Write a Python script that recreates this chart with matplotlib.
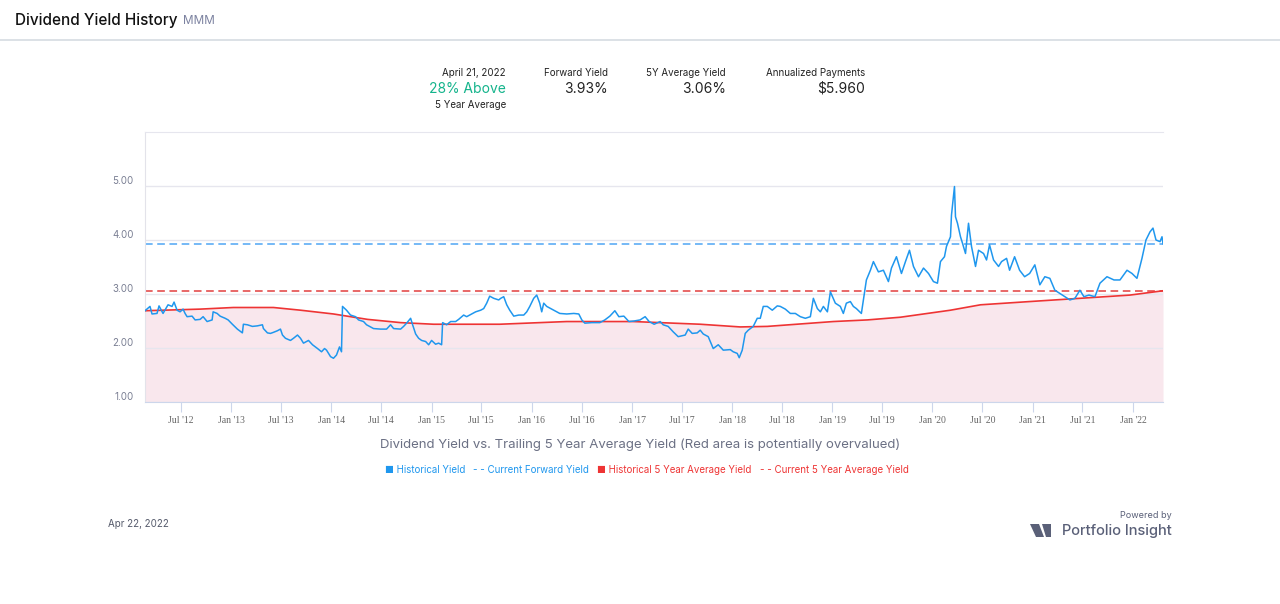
import pandas as pd
import matplotlib
matplotlib.use("Agg")
import matplotlib.pyplot as plt
from matplotlib.transforms import ScaledTranslation
from matplotlib.patches import Polygon

# ---- data (decimal years, yield %) ----
yield_years = [
    2012.14, 2012.19, 2012.21, 2012.26, 2012.28, 2012.32, 2012.37, 2012.41, 2012.43, 2012.46,
    2012.49, 2012.52, 2012.54, 2012.56, 2012.61, 2012.64, 2012.69, 2012.72, 2012.76, 2012.81,
    2012.82, 2012.86, 2012.89, 2012.94, 2012.97, 2013.01, 2013.06, 2013.11, 2013.12, 2013.16,
    2013.21, 2013.26, 2013.31, 2013.32, 2013.36, 2013.39, 2013.42, 2013.46, 2013.49, 2013.51,
    2013.54, 2013.59, 2013.62, 2013.66, 2013.69, 2013.72, 2013.77, 2013.81, 2013.86, 2013.90,
    2013.93, 2013.95, 2013.99, 2014.02, 2014.05, 2014.08, 2014.10, 2014.11, 2014.15, 2014.19,
    2014.24, 2014.27, 2014.32, 2014.35, 2014.42, 2014.49, 2014.55, 2014.59, 2014.62, 2014.69,
    2014.72, 2014.75, 2014.79, 2014.81, 2014.84, 2014.87, 2014.90, 2014.94, 2014.97, 2015.00,
    2015.04, 2015.07, 2015.10, 2015.11, 2015.15, 2015.19, 2015.24, 2015.27, 2015.32, 2015.35,
    2015.40, 2015.44, 2015.49, 2015.52, 2015.55, 2015.58, 2015.62, 2015.67, 2015.69, 2015.72,
    2015.75, 2015.78, 2015.82, 2015.87, 2015.92, 2015.95, 2015.98, 2016.02, 2016.05, 2016.08,
    2016.10, 2016.12, 2016.15, 2016.22, 2016.28, 2016.35, 2016.42, 2016.47, 2016.50, 2016.53,
    2016.60, 2016.68, 2016.73, 2016.78, 2016.83, 2016.87, 2016.92, 2016.97, 2017.02, 2017.08,
    2017.13, 2017.17, 2017.22, 2017.28, 2017.31, 2017.36, 2017.41, 2017.46, 2017.53, 2017.56,
    2017.60, 2017.65, 2017.68, 2017.71, 2017.76, 2017.81, 2017.86, 2017.91, 2017.98, 2018.01,
    2018.05, 2018.07, 2018.10, 2018.13, 2018.16, 2018.21, 2018.25, 2018.28, 2018.31, 2018.35,
    2018.40, 2018.45, 2018.48, 2018.53, 2018.58, 2018.63, 2018.68, 2018.73, 2018.78, 2018.81,
    2018.85, 2018.88, 2018.91, 2018.95, 2018.98, 2019.03, 2019.08, 2019.11, 2019.14, 2019.18,
    2019.21, 2019.24, 2019.29, 2019.32, 2019.34, 2019.38, 2019.41, 2019.46, 2019.51, 2019.56,
    2019.59, 2019.64, 2019.69, 2019.73, 2019.77, 2019.81, 2019.86, 2019.91, 2019.96, 2020.01,
    2020.05, 2020.08, 2020.12, 2020.14, 2020.18, 2020.19, 2020.22, 2020.23, 2020.25, 2020.28,
    2020.30, 2020.33, 2020.36, 2020.39, 2020.43, 2020.46, 2020.51, 2020.54, 2020.57, 2020.61,
    2020.66, 2020.69, 2020.74, 2020.77, 2020.82, 2020.87, 2020.92, 2020.97, 2021.02, 2021.07,
    2021.12, 2021.17, 2021.22, 2021.27, 2021.32, 2021.37, 2021.42, 2021.47, 2021.51, 2021.56,
    2021.62, 2021.67, 2021.74, 2021.81, 2021.87, 2021.94, 2021.99, 2022.04, 2022.09, 2022.13,
    2022.17, 2022.20, 2022.23, 2022.27, 2022.29, 2022.30,
]
yield_values = [
    2.69, 2.77, 2.63, 2.64, 2.78, 2.64, 2.80, 2.77, 2.85, 2.70,
    2.67, 2.72, 2.64, 2.58, 2.59, 2.52, 2.53, 2.58, 2.49, 2.52,
    2.67, 2.64, 2.59, 2.55, 2.52, 2.44, 2.35, 2.28, 2.44, 2.43,
    2.40, 2.41, 2.43, 2.36, 2.28, 2.27, 2.29, 2.32, 2.35, 2.24,
    2.18, 2.14, 2.18, 2.24, 2.18, 2.09, 2.14, 2.06, 1.99, 1.93,
    1.99, 1.96, 1.84, 1.81, 1.87, 2.02, 1.93, 2.77, 2.70, 2.61,
    2.58, 2.52, 2.49, 2.43, 2.36, 2.35, 2.35, 2.43, 2.36, 2.35,
    2.40, 2.46, 2.55, 2.43, 2.26, 2.18, 2.14, 2.12, 2.06, 2.14,
    2.07, 2.09, 2.06, 2.47, 2.43, 2.49, 2.49, 2.53, 2.61, 2.58,
    2.63, 2.67, 2.70, 2.73, 2.83, 2.96, 2.92, 2.89, 2.92, 2.95,
    2.80, 2.70, 2.59, 2.61, 2.61, 2.67, 2.77, 2.92, 2.98, 2.83,
    2.67, 2.83, 2.77, 2.70, 2.64, 2.63, 2.64, 2.63, 2.52, 2.46,
    2.47, 2.47, 2.52, 2.59, 2.69, 2.58, 2.59, 2.49, 2.50, 2.52,
    2.58, 2.49, 2.44, 2.49, 2.43, 2.40, 2.30, 2.21, 2.24, 2.35,
    2.27, 2.28, 2.33, 2.26, 2.21, 1.99, 2.06, 1.96, 1.97, 1.93,
    1.90, 1.82, 1.96, 2.27, 2.33, 2.40, 2.55, 2.55, 2.77, 2.77,
    2.70, 2.78, 2.77, 2.72, 2.64, 2.64, 2.58, 2.55, 2.58, 2.92,
    2.73, 2.67, 2.77, 2.67, 3.04, 2.83, 2.77, 2.64, 2.83, 2.86,
    2.77, 2.73, 2.64, 3.01, 3.26, 3.44, 3.60, 3.41, 3.44, 3.23,
    3.48, 3.69, 3.38, 3.60, 3.81, 3.51, 3.32, 3.48, 3.38, 3.23,
    3.20, 3.60, 3.69, 3.88, 4.06, 4.46, 4.99, 4.43, 4.31, 4.06,
    3.94, 3.75, 4.31, 3.88, 3.51, 3.81, 3.75, 3.63, 3.91, 3.63,
    3.51, 3.60, 3.66, 3.44, 3.69, 3.44, 3.32, 3.38, 3.54, 3.17,
    3.32, 3.29, 3.07, 3.01, 2.95, 2.89, 2.92, 3.07, 2.95, 2.98,
    2.95, 3.20, 3.32, 3.26, 3.26, 3.44, 3.38, 3.29, 3.66, 4.00,
    4.15, 4.22, 4.00, 3.97, 4.06, 3.93,
]

avg_years = [
    2012.14, 2012.69, 2013.02, 2013.42, 2013.69, 2014.02, 2014.36, 2014.69, 2015.02, 2015.68,
    2016.35, 2017.01, 2017.68, 2018.08, 2018.35, 2019.01, 2019.35, 2019.68, 2020.18, 2020.48,
    2020.97, 2021.47, 2021.97, 2022.30,
]
avg_values = [
    2.69, 2.72, 2.75, 2.75, 2.70, 2.63, 2.53, 2.47, 2.44, 2.44,
    2.49, 2.49, 2.44, 2.39, 2.40, 2.49, 2.52, 2.57, 2.70, 2.80,
    2.86, 2.92, 2.98, 3.06,
]

forward_yield = 3.93
avg5_yield = 3.06
x_start, x_end = 2012.14, 2022.30
y_ticks = [1, 2, 3, 4, 5]

stats = [
    ("Forward Yield", "3.93%", 608),
    ("5Y Average Yield", "3.06%", 726),
    ("Annualized Payments", "$5.960", 865),
]


def to_date(y):
    year = int(y)
    start = pd.Timestamp(year=year, month=1, day=1)
    return start + pd.Timedelta(days=(y - year) * 365.25)


W, H = 1280, 604


def px(x, y):
    return x / W, 1 - y / H


plt.rcParams["font.family"] = ["Inter", "DejaVu Sans"]

fig = plt.figure(figsize=(12.8, 6.04), dpi=100)
renderer = fig.canvas.get_renderer()

BLUE = "#1f97ee"
RED = "#ee3434"
GREY = "#6e7387"

# header
title = fig.text(*px(15, 20), "Dividend Yield History", fontsize=11, fontweight="medium",
                 color="#111111", va="center", ha="left")
tb = title.get_window_extent(renderer)
fig.text((tb.x1 + 5) / W, 1 - 21 / H, "MMM", fontsize=8.5, color="#7c82a0", va="center", ha="left")
fig.add_artist(plt.Line2D([0, 1], [1 - 40 / H] * 2, color="#d5dbe2", lw=1.2,
                          transform=fig.transFigure))

# stats row
fig.text(*px(506, 73), "April 21, 2022", fontsize=7, color="#222222", ha="right", va="center")
fig.text(*px(506, 89), "28% Above", fontsize=10, color="#15b48c", ha="right", va="center")
fig.text(*px(506, 105), "5 Year Average", fontsize=7, color="#222222", ha="right", va="center")
for label, value, xr in stats:
    fig.text(*px(xr, 73), label, fontsize=7, color="#222222", ha="right", va="center")
    fig.text(*px(xr, 89), value, fontsize=10, color="#222222", ha="right", va="center")

# chart
left, right, top, bottom = 145, 1163, 132, 402
ax = fig.add_axes([left / W, 1 - bottom / H, (right - left) / W, (bottom - top) / H])

dates = [to_date(y) for y in yield_years]
avg_dates = [to_date(y) for y in avg_years]

ax.fill_between(avg_dates, 1, avg_values, color="#f9e7ed", lw=0, zorder=1)
ax.plot(avg_dates, avg_values, color=RED, lw=1.2, zorder=3)
ax.plot(dates, yield_values, color=BLUE, lw=1.1, zorder=4)
ax.axhline(forward_yield, color="#4fa6f4", lw=1.1, ls=(0, (5, 3)), zorder=2)
ax.axhline(avg5_yield, color="#e23f3f", lw=1.1, ls=(0, (5, 3)), zorder=2)

ax.set_xlim(to_date(x_start), to_date(x_end))
ax.set_ylim(1, 6)

ax.set_yticks(y_ticks)
ax.set_yticklabels([f"{v:.2f}" for v in y_ticks])
ax.grid(axis="y", color="#e6e6ee", lw=1, zorder=0)
ax.tick_params(axis="y", length=0, labelsize=7, labelcolor="#7a7f93", pad=8)
shift = ScaledTranslation(0, 4 / 72, fig.dpi_scale_trans)
for lab in ax.get_yticklabels():
    lab.set_transform(lab.get_transform() + shift)

xticks = pd.date_range("2012-07-01", "2022-01-01", freq="6MS")
ax.set_xticks(xticks)
ax.set_xticklabels([d.strftime("%b '%y") for d in xticks],
                   fontfamily="Liberation Serif", fontsize=7, color="#666666")
ax.tick_params(axis="x", length=7, color="#ccd6eb", pad=3)

ax.spines["right"].set_visible(False)
ax.spines["left"].set_color("#e3e3ea")
ax.spines["top"].set_color("#e6e6ee")
ax.spines["bottom"].set_color("#ccd6eb")

# caption + legend
fig.text(*px(640, 445), "Dividend Yield vs. Trailing 5 Year Average Yield (Red area is potentially overvalued)",
         fontsize=9.5, color="#6b7084", ha="center", va="center")
legend_items = [
    ("\u25a0", "Historical Yield", BLUE),
    ("- -", "Current Forward Yield", BLUE),
    ("\u25a0", "Historical 5 Year Average Yield", RED),
    ("- -", "Current 5 Year Average Yield", RED),
]
xcur = 385
for mark, txt, col in legend_items:
    t = fig.text(*px(xcur, 470), mark + " " + txt, fontsize=7, color=col, ha="left", va="center")
    xcur = t.get_window_extent(renderer).x1 + 8

# footer
fig.text(*px(108, 524), "Apr 22, 2022", fontsize=7, color="#555a6b", ha="left", va="center")
fig.text(*px(1172, 516), "Powered by", fontsize=6.5, color="#5a6078", ha="right", va="center")
fig.text(*px(1172, 531), "Portfolio Insight", fontsize=10.5, color="#5a6078", ha="right",
         va="center", fontweight="medium")
logo_a = [px(1030, 524), px(1039, 524), px(1044, 537), px(1036, 537)]
logo_b = [px(1042, 524), px(1051, 524), px(1051, 537), px(1046, 537)]
for poly in (logo_a, logo_b):
    fig.add_artist(Polygon(poly, closed=True, transform=fig.transFigure, color="#5a6078", lw=0))

fig.savefig("out.png", dpi=100, facecolor="white")
